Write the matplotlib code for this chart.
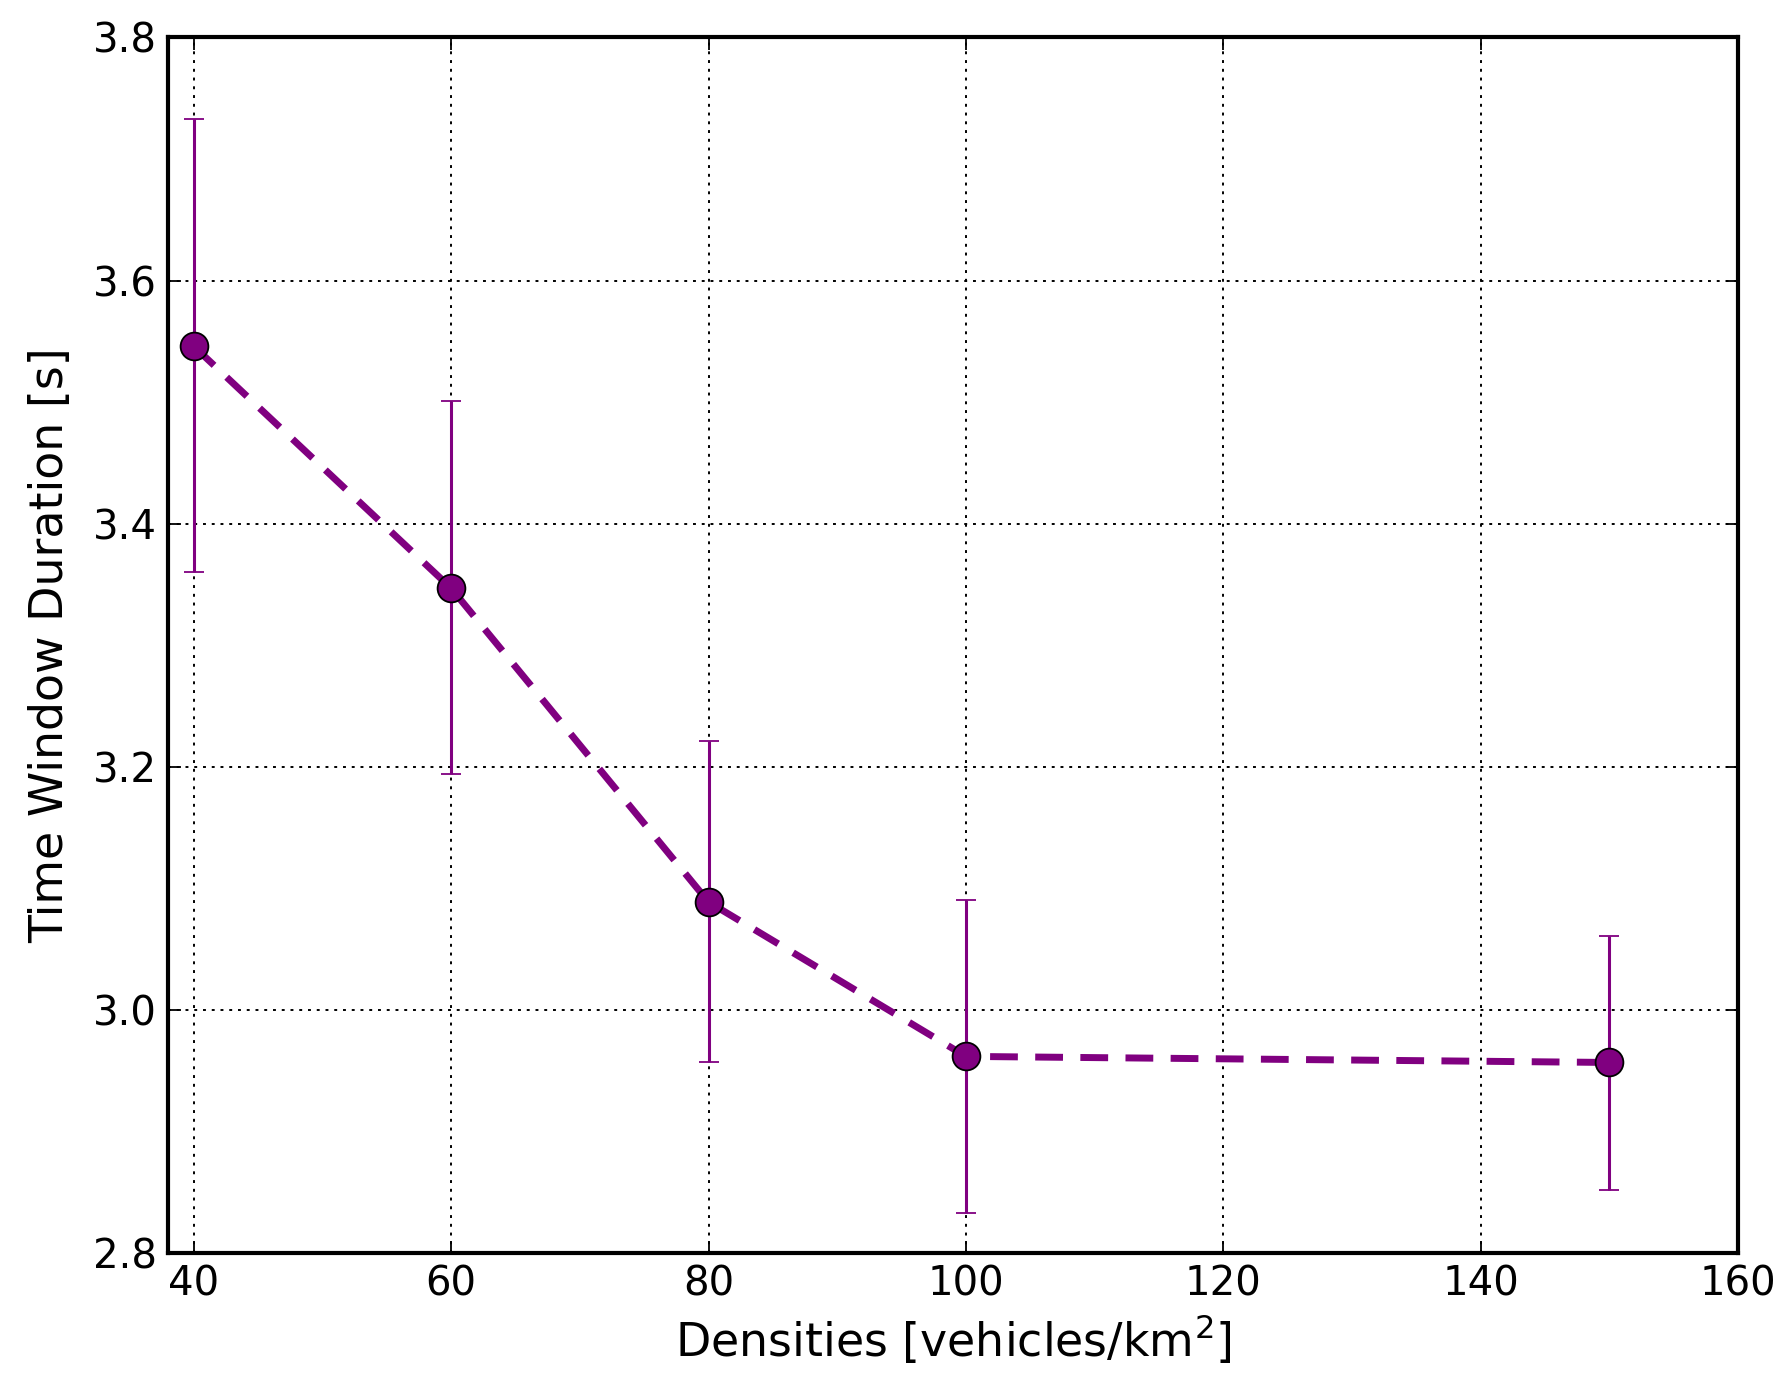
import matplotlib
matplotlib.use("Agg")
import matplotlib.pyplot as plt
import numpy as np

densities = [40, 60, 80, 100, 150]
means = [3.546, 3.347, 3.089, 2.962, 2.957]
upper = [3.733, 3.501, 3.221, 3.091, 3.061]
lower = [3.360, 3.194, 2.957, 2.833, 2.852]

m = np.array(means)
yerr = [m - np.array(lower), np.array(upper) - m]

fig = plt.figure(figsize=(17.88, 13.88), dpi=100)
ax = fig.add_axes([0.094, 0.097, 0.878, 0.876])
ax.errorbar(densities, means, yerr=yerr, color='#800080', ls='--', lw=5,
            marker='o', ms=20, mfc='#800080', mec='black', mew=1.3,
            ecolor='#800080', elinewidth=2.2, capsize=7, capthick=2.2, dashes=(4, 2.5))
ax.set_xlim(38, 160)
ax.set_ylim(2.8, 3.8)
ax.set_xticks([40, 60, 80, 100, 120, 140, 160])
ax.set_yticks([2.8, 3.0, 3.2, 3.4, 3.6, 3.8])
ax.grid(True, color='black', ls=(0, (1.5, 3)), lw=1.4)
ax.tick_params(labelsize=29, direction='in', length=9, width=1.3, top=True, right=True, pad=8)
for s in ax.spines.values():
    s.set_linewidth(3)
ax.set_xlabel('Densities [vehicles/km$^2$]', fontsize=33, labelpad=6)
ax.set_ylabel('Time Window Duration [s]', fontsize=33, labelpad=14)
fig.savefig('out.png', dpi=100)
